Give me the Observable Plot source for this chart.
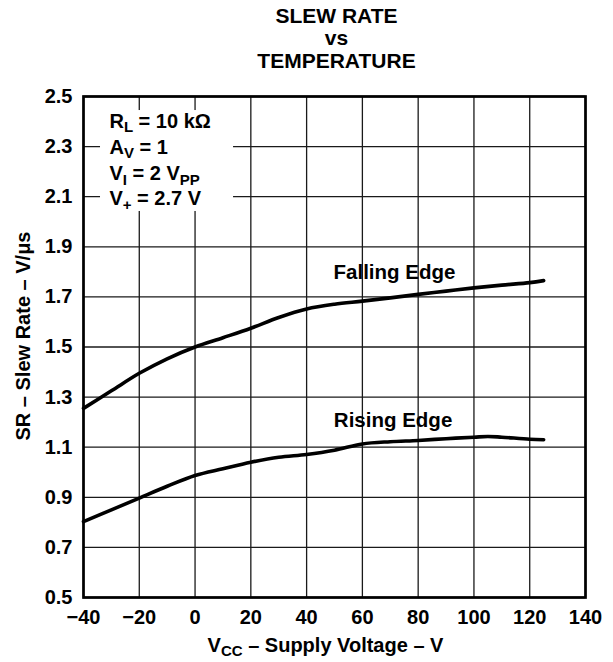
<!DOCTYPE html>
<html>
<head>
<meta charset="utf-8">
<script src="https://cdn.jsdelivr.net/npm/d3@7"></script>
<script src="https://cdn.jsdelivr.net/npm/@observablehq/plot@0.6"></script>
<style>
  html, body { margin: 0; padding: 0; background: #fff; }
  #chart { width: 613px; height: 662px; }
</style>
</head>
<body>
<div id="chart"></div>
<script>
// ---- data ----
const titleLines = ["SLEW RATE", "vs", "TEMPERATURE"];
const xLabel = "V_{CC} – Supply Voltage – V";
const yLabel = "SR – Slew Rate – V/μs";
const xTicks = [-40, -20, 0, 20, 40, 60, 80, 100, 120, 140];
const yTicks = [0.5, 0.7, 0.9, 1.1, 1.3, 1.5, 1.7, 1.9, 2.1, 2.3, 2.5];

const fallingT = [-40, -30, -20, -10, 0, 10, 20, 30, 40, 50, 60, 70, 80, 90, 100, 110, 120, 125];
const fallingV = [1.255, 1.325, 1.395, 1.453, 1.50, 1.537, 1.575, 1.618, 1.652, 1.671, 1.683, 1.696, 1.710, 1.723, 1.736, 1.747, 1.757, 1.765];
const risingT = [-40, -30, -20, -10, 0, 10, 20, 30, 40, 50, 60, 70, 80, 90, 100, 105, 110, 120, 125];
const risingV = [0.803, 0.85, 0.897, 0.944, 0.987, 1.014, 1.04, 1.06, 1.071, 1.088, 1.113, 1.122, 1.127, 1.134, 1.140, 1.143, 1.140, 1.132, 1.130];

const curveLabels = [
  {x: 71.5, y: 1.773, text: "Falling Edge"},
  {x: 71.0, y: 1.180, text: "Rising Edge"}
];
const conditionLines = [
  {x: -30.7, y: 2.376, text: "R_{L} = 10 kΩ"},
  {x: -30.7, y: 2.272, text: "A_{V} = 1"},
  {x: -30.7, y: 2.165, text: "V_{I} = 2 V_{PP}"},
  {x: -30.7, y: 2.065, text: "V_{+} = 2.7 V"}
];
const conditionBox = [{x1: -33.9, x2: 13.8, y1: 2.041, y2: 2.444}];

// ---- build ----
const falling = fallingT.map((t, i) => ({t, v: fallingV[i]}));
const rising = risingT.map((t, i) => ({t, v: risingV[i]}));
const FONT = "'Liberation Sans', Arial, Helvetica, sans-serif";

const chart = Plot.plot({
  width: 613,
  height: 662,
  marginLeft: 83,
  marginRight: 28,
  marginTop: 96,
  marginBottom: 65,
  style: {fontFamily: FONT, fontWeight: "bold", fontSize: "20px", color: "black", background: "white"},
  x: {domain: [-40, 140], label: null},
  y: {domain: [0.5, 2.5], label: null},
  marks: [
    Plot.gridX(xTicks, {stroke: "#1a1a1a", strokeOpacity: 1, strokeWidth: 1.3}),
    Plot.gridY(yTicks, {stroke: "#1a1a1a", strokeOpacity: 1, strokeWidth: 1.3}),
    Plot.rect(conditionBox, {x1: "x1", x2: "x2", y1: "y1", y2: "y2", fill: "white"}),
    Plot.frame({stroke: "black", strokeWidth: 2.7}),
    Plot.axisX({ticks: xTicks, tickSize: 0, tickPadding: 12, fontSize: 20, label: null}),
    Plot.axisY({ticks: yTicks, tickSize: 0, tickPadding: 11, fontSize: 20, tickFormat: d3.format(".1f"), label: null}),
    Plot.line(falling, {x: "t", y: "v", curve: "catmull-rom", stroke: "black", strokeWidth: 3.6}),
    Plot.line(rising, {x: "t", y: "v", curve: "catmull-rom", stroke: "black", strokeWidth: 3.6}),
    Plot.text(curveLabels, {x: "x", y: "y", text: "text", textAnchor: "middle", lineAnchor: "bottom", fontSize: 20.5, fill: "black"}),
    Plot.text(conditionLines, {x: "x", y: "y", text: "text", textAnchor: "start", lineAnchor: "bottom", fontSize: 20, fill: "black"}),
    Plot.text([titleLines.join("\n")], {frameAnchor: "top", textAnchor: "middle", lineAnchor: "bottom", dy: -29, dx: 2, lineHeight: 1.06, fontSize: 21, fill: "black"}),
    Plot.text([xLabel], {frameAnchor: "bottom", textAnchor: "middle", lineAnchor: "bottom", dy: 54, dx: -9, fontSize: 20, fill: "black"}),
    Plot.text([yLabel], {frameAnchor: "left", textAnchor: "middle", rotate: -90, lineAnchor: "middle", dx: -60, dy: -11, fontSize: 20, fill: "black"})
  ]
});

// subscript handling: "_{...}" -> smaller lowered tspan
d3.select(chart).selectAll("text").each(function () {
  const s = this.textContent;
  if (!s.includes("_{")) return;
  const el = d3.select(this);
  el.text("");
  const parts = s.split(/(_\{[^}]*\})/);
  let shifted = false;
  for (const p of parts) {
    if (!p) continue;
    const m = p.match(/^_\{(.*)\}$/);
    const ts = el.append("tspan");
    if (m) {
      ts.text(m[1]).attr("font-size", "15px");
      if (!shifted) ts.attr("dy", 4.5);
      shifted = true;
    } else {
      ts.text(p);
      if (shifted) ts.attr("dy", -4.5);
      shifted = false;
    }
  }
});

document.getElementById("chart").appendChild(chart);
</script>
</body>
</html>
